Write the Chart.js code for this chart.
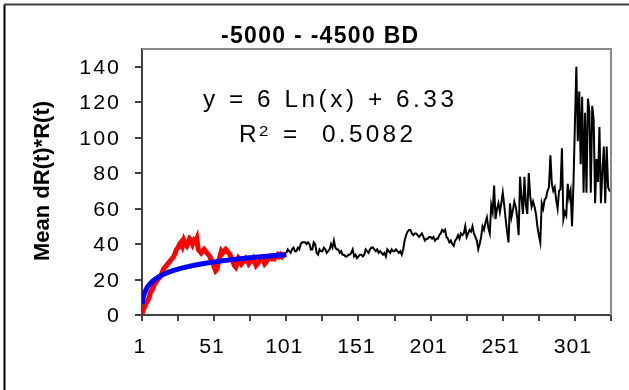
<!DOCTYPE html>
<html>
<head>
<meta charset="utf-8">
<script src="https://cdn.jsdelivr.net/npm/chart.js@4/dist/chart.umd.min.js"></script>
<style>
  body { margin: 0; background: #fff; }
  #myChart { display: block; }
</style>
</head>
<body>
<canvas id="myChart" width="629" height="390"></canvas>
<script>
// serie roja, x = 1..101
const rojoInicio = 1;
const rojo = [
  1, 3, 5, 7, 8, 10, 13, 14, 16, 18,
  19, 20, 21, 22, 24, 26, 27, 28, 29, 30,
  31, 32, 33, 35, 37, 38, 40, 41, 39, 42,
  40, 39, 41, 43, 42, 40, 42, 41, 43, 37,
  36, 35, 36, 37, 36, 35, 34, 33, 31, 30,
  27, 25, 26, 30, 33, 36, 35, 36, 37, 36,
  35, 34, 32, 30, 28, 27, 29, 32, 31, 29,
  30, 31, 32, 31, 29, 30, 31, 32, 30, 28,
  29, 30, 31, 32, 31, 29, 30, 31, 32, 33,
  32, 33, 32, 33, 34, 33, 34, 33, 34, 34,
  34
];

// serie negra, x = 101..326
const negroInicio = 101;
const negro = [
  35, 37, 36, 35, 37, 38, 36, 36, 38, 37,
  40, 41, 41, 41, 40, 41, 40, 37, 37, 41,
  40, 35, 34, 37, 36, 36, 38, 37, 35, 36,
  37, 40, 38, 42, 38, 37, 37, 35, 36, 34,
  34, 33, 33, 34, 34, 35, 37, 33, 34, 32,
  33, 34, 34, 33, 34, 37, 36, 35, 37, 38,
  38, 37, 36, 37, 35, 36, 35, 34, 35, 33,
  37, 36, 35, 37, 36, 36, 37, 36, 35, 36,
  34, 37, 42, 45, 47, 48, 48, 46, 45, 46,
  46, 45, 44, 45, 46, 44, 42, 43, 43, 44,
  44, 43, 44, 42, 43, 43, 45, 46, 48, 47,
  48, 44, 43, 41, 42, 40, 39, 42, 43, 45,
  43, 46, 45, 46, 50, 44, 46, 48, 47, 50,
  46, 44, 42, 37, 40, 44, 50, 48, 52, 55,
  49, 46, 62, 58, 73, 54, 60, 63, 58, 63,
  69, 62, 54, 47, 41, 63, 55, 59, 64, 61,
  55, 45, 78, 66, 57, 78, 62, 57, 80, 67,
  61, 64, 61, 57, 50, 45, 41, 63, 60, 65,
  66, 70, 72, 90, 74, 70, 72, 65, 60, 70,
  71, 94, 54, 58, 56, 74, 66, 70, 50, 74,
  108, 140, 98, 126, 85, 123, 69, 114, 69, 122,
  115, 69, 118, 110, 63, 88, 75, 106, 63, 80,
  95, 63, 95, 72, 70, 70
];

// ajuste logaritmico: y = 6 Ln(x) + 6.33
const ajustePendiente = 6;
const ajusteConstante = 6.33;
const ajusteDesde = 1;
const ajusteHasta = 101;

const ticksX = [1, 26, 51, 76, 101, 126, 151, 176, 201, 226, 251, 276, 301, 326];
const ticksY = [0, 20, 40, 60, 80, 100, 120, 140];

const titulo = '-5000 - -4500 BD';
const tituloY = 'Mean dR(t)*R(t)';
const ecuacion = 'y = 6 Ln(x) + 6.33';
const r2Valor = '0.5082';

const fuente = "'Liberation Sans', Arial, sans-serif";

// pasamos los arrays a puntos {x, y}
const puntos = (valores, inicio) => valores.map((v, i) => ({ x: inicio + i, y: v }));

const ajuste = [];
for (let x = ajusteDesde; x <= ajusteHasta; x++) {
  ajuste.push({ x: x, y: ajustePendiente * Math.log(x) + ajusteConstante });
}

// escribe un texto algo ensanchado (sx) y, si se da ancho, reparte el espacio entre letras
function texto(c, str, x, y, o) {
  c.save();
  c.font = o.font;
  c.letterSpacing = '0px';
  const sx = o.sx || 1;
  const natural = c.measureText(str).width * sx;
  const n = str.length;
  let ls = o.ls || 0;
  if (o.ancho && n > 1) ls = (o.ancho - natural) / (n - 1);
  const total = natural + ls * (n - 1);
  let x0 = x;
  if (o.align === 'center') x0 = x - total / 2;
  if (o.align === 'right') x0 = x - total;
  c.translate(x0, y);
  c.scale(sx, 1);
  c.letterSpacing = (ls / sx) + 'px';
  c.textAlign = 'left';
  c.textBaseline = 'alphabetic';
  c.fillStyle = '#000';
  c.fillText(str, 0, 0);
  c.restore();
}

// textos, marco y bordes que Chart.js no dibuja
const decorado = {
  id: 'decorado',
  afterDraw(chart) {
    const c = chart.ctx;
    const a = chart.chartArea;
    const sx = chart.scales.x;
    const sy = chart.scales.y;
    c.save();

    // marco exterior
    c.lineWidth = 2;
    c.strokeStyle = '#000';
    c.beginPath();
    c.moveTo(4.5, 390);
    c.lineTo(4.5, 4.5);
    c.stroke();
    c.strokeStyle = '#404040';
    c.beginPath();
    c.moveTo(4, 4.5);
    c.lineTo(629, 4.5);
    c.stroke();

    // borde gris arriba y a la derecha del area
    c.strokeStyle = '#8a8a8a';
    c.beginPath();
    c.moveTo(a.left, a.top);
    c.lineTo(a.right, a.top);
    c.lineTo(a.right, a.bottom);
    c.stroke();

    // etiquetas del eje x (una si y otra no)
    ticksX.forEach(v => {
      if ((v - 1) % 50 !== 0) return;
      texto(c, String(v), sx.getPixelForValue(v) - 2.5, 353,
        { font: '20px ' + fuente, sx: 1.07, ls: 0.8, align: 'center' });
    });

    // etiquetas del eje y
    ticksY.forEach(v => {
      texto(c, String(v), 119, sy.getPixelForValue(v) + 7,
        { font: '20px ' + fuente, sx: 1.07, ls: 2, align: 'right' });
    });

    // titulo
    c.fillStyle = '#000';
    c.textBaseline = 'alphabetic';
    c.textAlign = 'left';
    c.font = 'bold 23px ' + fuente;
    c.letterSpacing = '1.3px';
    c.fillText(titulo, 221, 43);
    c.letterSpacing = '0px';

    // titulo del eje y
    c.save();
    c.translate(49, 181);
    c.rotate(-Math.PI / 2);
    c.textAlign = 'center';
    c.font = 'bold 22px ' + fuente;
    c.fillText(tituloY, 0, 0);
    c.restore();

    // ecuacion y R2
    texto(c, ecuacion, 203, 106.5, { font: '23px ' + fuente, sx: 1.06, ancho: 251 });
    texto(c, 'R', 239, 141.5, { font: '23px ' + fuente, sx: 1.06 });
    texto(c, '2', 259, 135.5, { font: '15px ' + fuente, sx: 1.12 });
    texto(c, '=', 283, 141.5, { font: '23px ' + fuente, sx: 1.06 });
    texto(c, r2Valor, 322, 141.5, { font: '23px ' + fuente, sx: 1.06, ancho: 91 });

    c.restore();
  }
};

const ctx = document.getElementById('myChart');
new Chart(ctx, {
  type: 'line',
  data: {
    datasets: [
      {
        label: 'ajuste',
        data: ajuste,
        borderColor: '#0000ff',
        borderWidth: 5,
        pointRadius: 0,
        tension: 0,
        order: 0
      },
      {
        label: 'rojo',
        data: puntos(rojo, rojoInicio),
        borderColor: '#ff0000',
        borderWidth: 5,
        pointRadius: 0,
        tension: 0,
        order: 1
      },
      {
        label: 'negro',
        data: puntos(negro, negroInicio),
        borderColor: '#000000',
        borderWidth: 2,
        pointRadius: 0,
        tension: 0,
        order: 2
      }
    ]
  },
  options: {
    responsive: false,
    animation: false,
    devicePixelRatio: 1,
    layout: { padding: { top: 49, right: 18, bottom: 0, left: 0 } },
    plugins: {
      legend: { display: false },
      tooltip: { enabled: false },
      title: { display: false }
    },
    scales: {
      x: {
        type: 'linear',
        min: 1,
        max: 326,
        afterBuildTicks: s => { s.ticks = ticksX.map(v => ({ value: v })); },
        afterFit: s => { s.height = 75; },
        grid: { drawOnChartArea: false, drawTicks: true, tickLength: 6, color: '#404040', lineWidth: 2 },
        border: { color: '#404040', width: 2 },
        ticks: { display: false }
      },
      y: {
        min: 0,
        max: 150,
        afterBuildTicks: s => { s.ticks = ticksY.map(v => ({ value: v })); },
        afterFit: s => { s.width = 142; },
        grid: { drawOnChartArea: false, drawTicks: true, tickLength: 7, color: '#404040', lineWidth: 2 },
        border: { color: '#404040', width: 2 },
        ticks: { display: false }
      }
    }
  },
  plugins: [decorado]
});
</script>
</body>
</html>
